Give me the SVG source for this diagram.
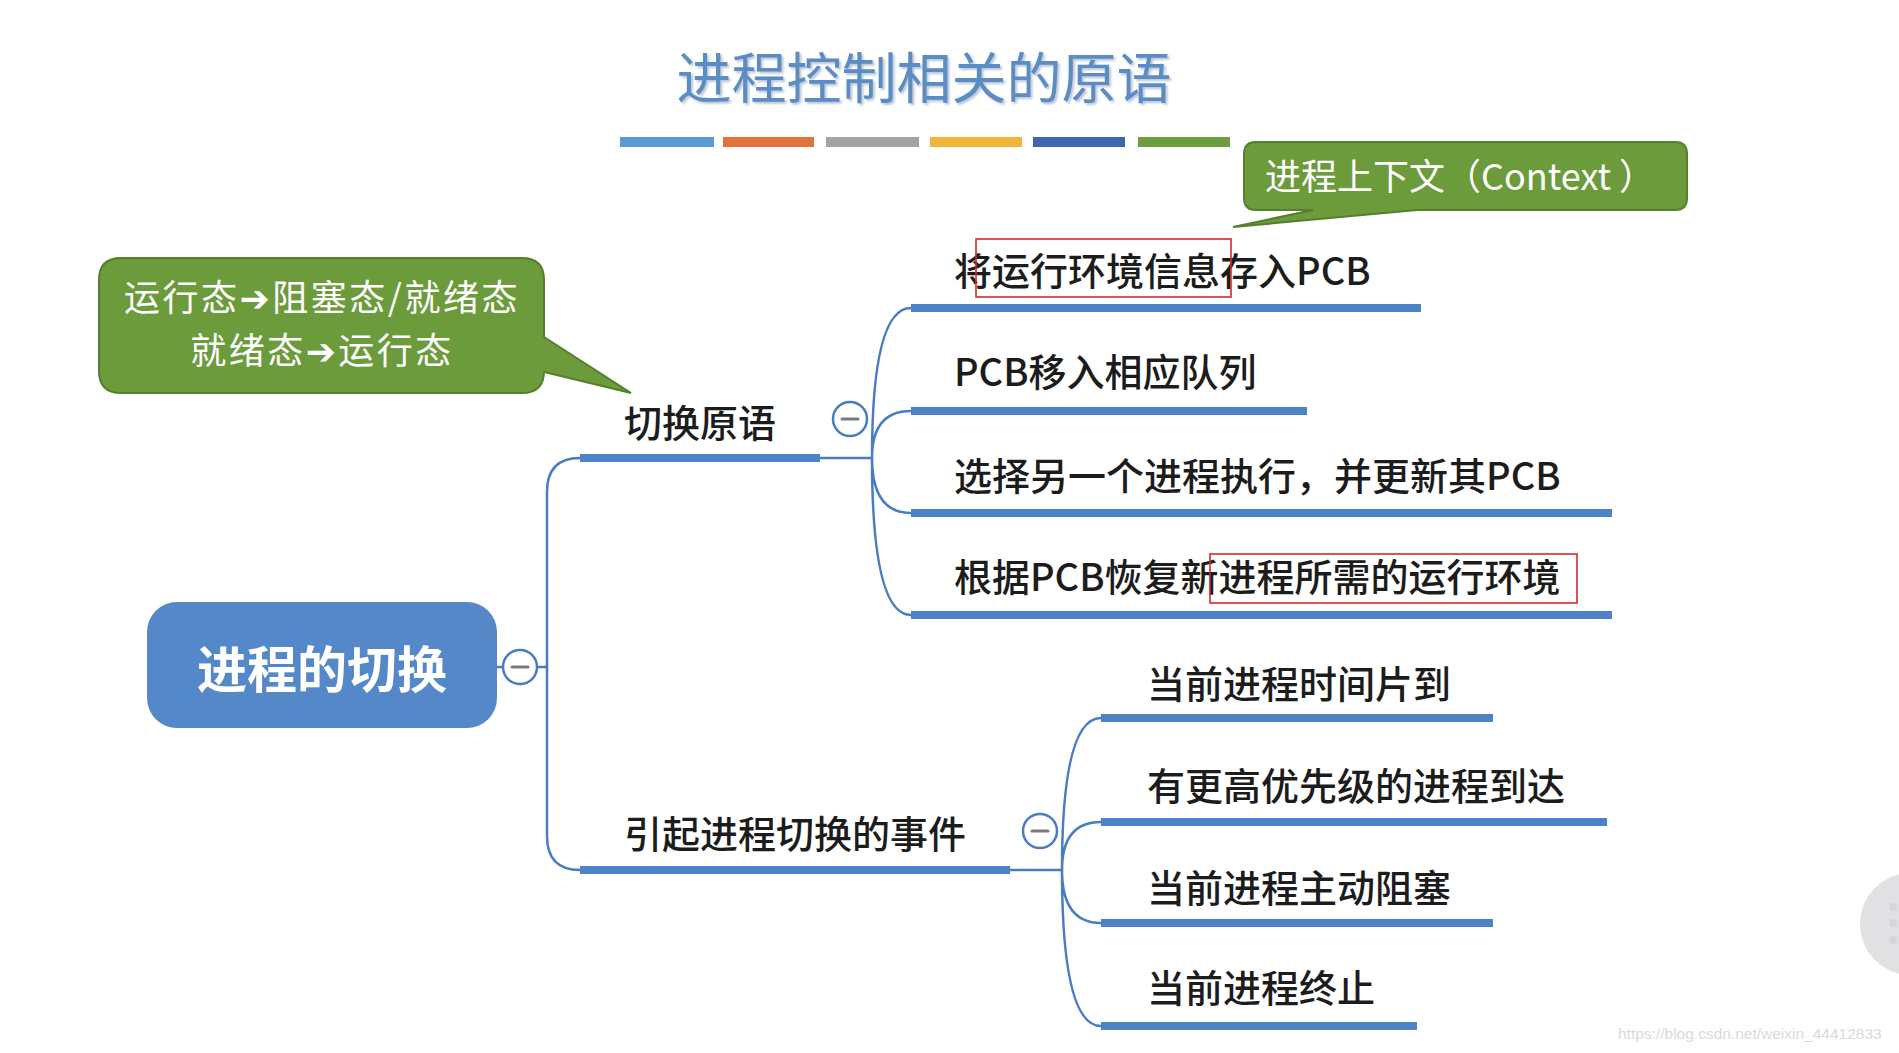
<svg xmlns="http://www.w3.org/2000/svg" width="1899" height="1053" viewBox="0 0 1899 1053">
<defs>
<style>
.t{font-family:"Noto Sans CJK SC","Noto Sans",sans-serif;font-size:38px;fill:#1c1c1c;font-weight:500}
.w{font-family:"Noto Sans CJK SC","DejaVu Sans","Noto Sans",sans-serif;fill:#ffffff}
.ul{fill:#4e82c6}
.ln{fill:none;stroke:#4a7dc0;stroke-width:2.5;stroke-linecap:round}
.col{fill:#ffffff;stroke:#4a7dc0;stroke-width:2.5}
.minus{stroke:#7a7a7a;stroke-width:3;stroke-linecap:round}
.call{fill:#6c9b3c;stroke:#557f2c;stroke-width:2}
.red{fill:none;stroke:#d42b2b;stroke-width:1.6}
</style>
<filter id="sh" x="-5%" y="-20%" width="110%" height="140%">
<feDropShadow dx="2" dy="2" stdDeviation="1.2" flood-color="#8aa0bb" flood-opacity="0.6"/>
</filter>
</defs>
<rect width="1899" height="1053" fill="#ffffff"/>

<g id="title">
<text x="924" y="98" text-anchor="middle" font-family="'Noto Sans CJK SC','Noto Sans',sans-serif" font-size="55" fill="#5b8cc4" filter="url(#sh)">进程控制相关的原语</text>
<rect x="620" y="137" width="94" height="10" fill="#5b9bd5"/>
<rect x="723" y="137" width="91" height="10" fill="#e0733a"/>
<rect x="826" y="137" width="93" height="10" fill="#a3a3a3"/>
<rect x="930" y="137" width="92" height="10" fill="#f2b43b"/>
<rect x="1033" y="137" width="92" height="10" fill="#3f66b0"/>
<rect x="1138" y="137" width="92" height="10" fill="#6a9e3f"/>
</g>

<g id="connectors">
<path class="ln" d="M497 667 L502 667 M538 667 L547 667"/>
<path class="ln" d="M580 458 Q547 458 547 492 L547 836 Q547 870 580 870"/>
<path class="ln" d="M820 458 L872 458"/>
<path class="ln" d="M872 458 Q872 308 911 308 M872 458 Q872 411 911 411 M872 458 Q872 513 911 513 M872 458 Q872 615 911 615"/>
<path class="ln" d="M1010 870 L1062 870"/>
<path class="ln" d="M1062 870 Q1062 718 1101 718 M1062 870 Q1062 822 1101 822 M1062 870 Q1062 923 1101 923 M1062 870 Q1062 1026 1101 1026"/>
</g>

<g id="root">
<rect x="147" y="602" width="350" height="126" rx="30" fill="#5588c8"/>
<text class="w" x="322" y="688" text-anchor="middle" font-size="50" font-weight="bold">进程的切换</text>
<circle class="col" cx="520" cy="667" r="17"/>
<line class="minus" x1="512" y1="667" x2="528" y2="667"/>
</g>

<g id="branch1">
<text class="t" x="624" y="437">切换原语</text>
<rect class="ul" x="580" y="454" width="240" height="8"/>
<circle class="col" cx="850" cy="419" r="17"/>
<line class="minus" x1="842" y1="419" x2="858" y2="419"/>
</g>

<g id="b1c1">
<text class="t" x="954" y="285">将运行环境信息存入PCB</text>
<rect class="ul" x="911" y="304" width="510" height="8"/>
<rect class="red" x="976" y="239" width="255" height="58"/>
</g>
<g id="b1c2">
<text class="t" x="954" y="386">PCB移入相应队列</text>
<rect class="ul" x="911" y="407" width="396" height="8"/>
</g>
<g id="b1c3">
<text class="t" x="954" y="490">选择另一个进程执行，并更新其PCB</text>
<rect class="ul" x="911" y="509" width="701" height="8"/>
</g>
<g id="b1c4">
<text class="t" x="954" y="591">根据PCB恢复新进程所需的运行环境</text>
<rect class="ul" x="911" y="611" width="701" height="8"/>
<rect class="red" x="1210" y="554" width="367" height="49"/>
</g>

<g id="branch2">
<text class="t" x="624" y="848">引起进程切换的事件</text>
<rect class="ul" x="580" y="866" width="430" height="8"/>
<circle class="col" cx="1040" cy="831" r="17"/>
<line class="minus" x1="1032" y1="831" x2="1048" y2="831"/>
</g>

<g id="b2c1">
<text class="t" x="1147" y="698">当前进程时间片到</text>
<rect class="ul" x="1101" y="714" width="392" height="8"/>
</g>
<g id="b2c2">
<text class="t" x="1147" y="800">有更高优先级的进程到达</text>
<rect class="ul" x="1101" y="818" width="506" height="8"/>
</g>
<g id="b2c3">
<text class="t" x="1147" y="902">当前进程主动阻塞</text>
<rect class="ul" x="1101" y="919" width="392" height="8"/>
</g>
<g id="b2c4">
<text class="t" x="1147" y="1002">当前进程终止</text>
<rect class="ul" x="1101" y="1022" width="316" height="8"/>
</g>

<g id="callout-left">
<path class="call" d="M121 258 H522 Q544 258 544 280 V337 L631 393 L544 372 V371 Q544 393 522 393 H121 Q99 393 99 371 V280 Q99 258 121 258 Z"/>
<text class="w" x="322" y="311" text-anchor="middle" font-size="36" letter-spacing="2.5">运行态➔阻塞态/就绪态</text>
<text class="w" x="322" y="364" text-anchor="middle" font-size="36" letter-spacing="2.5">就绪态➔运行态</text>
</g>

<g id="callout-right">
<path class="call" d="M1256 142 H1675 Q1687 142 1687 154 V198 Q1687 210 1675 210 H1417 L1233 227 L1313 210 H1256 Q1244 210 1244 198 V154 Q1244 142 1256 142 Z"/>
<text class="w" x="1265" y="190" font-size="36">进程上下文（Context ）</text>
</g>

<g id="decor">
<circle cx="1911" cy="924" r="51" fill="#e1e1e4"/>
<circle cx="1893" cy="907" r="4" fill="#d6d6d9"/>
<circle cx="1893" cy="923" r="4" fill="#d6d6d9"/>
<circle cx="1893" cy="940" r="4" fill="#d6d6d9"/>
<text x="1618" y="1039" font-family="'Liberation Sans',Arial,sans-serif" font-size="15.5" fill="#dadada">https://blog.csdn.net/weixin_44412833</text>
</g>
</svg>
